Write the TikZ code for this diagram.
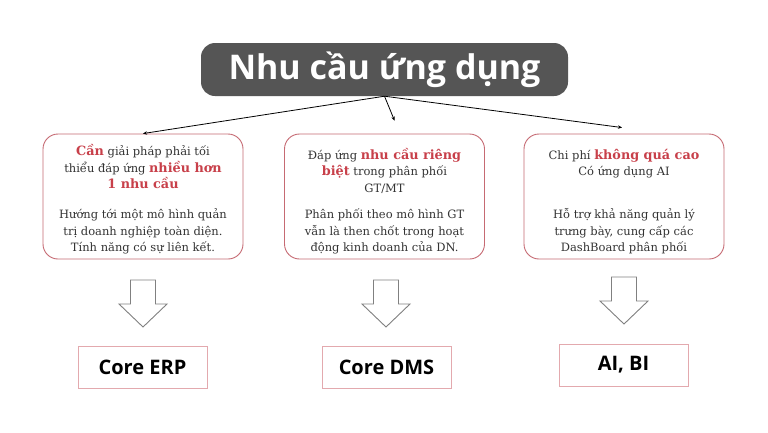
\documentclass[tikz,border=0pt]{standalone}
\usepackage{fontspec}
\setmainfont{DejaVu Serif}
\newfontfamily\headfont{Open Sans}
\usetikzlibrary{arrows.meta,positioning}
\definecolor{titlegray}{HTML}{555555}
\definecolor{needred}{HTML}{C8404A}
\definecolor{needframe}{HTML}{C66A73}
\definecolor{resframe}{HTML}{E3A9AE}
\definecolor{bodygray}{HTML}{333333}
\newcommand{\hl}[1]{\textcolor{needred}{\fontsize{12.8}{16.5}\selectfont\textbf{#1}}}

\begin{document}
\begin{tikzpicture}[x=1pt,y=-1pt,
    needbox/.style={draw=needframe, line width=0.9pt, rounded corners=15pt, minimum width=200pt, minimum height=125pt, inner sep=0pt},
    needtext/.style={align=center, inner sep=0pt, text=bodygray, font=\fontsize{11.5}{16.5}\selectfont},
    resbox/.style={draw=resframe, line width=0.9pt, minimum width=129pt, minimum height=42pt, font=\headfont\bfseries\fontsize{20}{22}\selectfont},
    link/.style={black, line width=0.8pt, -{Stealth[length=4pt,width=3.5pt]}},
    blockarrow/.style={draw=gray, line width=0.9pt, fill=white}]
        \useasboundingbox[fill=white] (0,0) rectangle (768,432);

        %% title
        \node[fill=titlegray, rounded corners=14pt, minimum width=367pt, minimum height=53pt, text=white,
              font=\headfont\bfseries\fontsize{34}{36}\selectfont] (title) at (384.5,69.5) {Nhu cầu ứng dụng};

        %% needs
        \node[needbox] (neederp) at (143,196.5) {};
        \node[needbox] (needdms) at (384.5,196.5) {};
        \node[needbox] (needai) at (624,196.5) {};

        \node[needtext] (erpa) at ([yshift=-33pt]neederp.north) {\hl{Cần} giải pháp phải tối\\ thiểu đáp ứng \hl{nhiều hơn}\\ \hl{1 nhu cầu}};
        \node[needtext] (erpb) at ([yshift=28pt]neederp.south) {Hướng tới một mô hình quản\\ trị doanh nghiệp toàn diện.\\ Tính năng có sự liên kết.};
        \node[needtext] (dmsa) at ([yshift=-37pt]needdms.north) {Đáp ứng \hl{nhu cầu riêng}\\ \hl{biệt} trong phân phối\\ GT/MT};
        \node[needtext] (dmsb) at ([yshift=28pt]needdms.south) {Phân phối theo mô hình GT\\ vẫn là then chốt trong hoạt\\ động kinh doanh của DN.};
        \node[needtext] (aia) at ([yshift=-30pt]needai.north) {Chi phí \hl{không quá cao}\\ Có ứng dụng AI};
        \node[needtext] (aib) at ([yshift=28pt]needai.south) {Hỗ trợ khả năng quản lý\\ trưng bày, cung cấp các\\ DashBoard phân phối};

        %% links from title
        \coordinate (dmstip) at ([shift={(10,-13)}]needdms.north);
        \coordinate (aitip) at ([shift={(-2,-6)}]needai.north);
        \draw[link] (title.south) -- (neederp.north);
        \draw[link] (title.south) -- (dmstip);
        \draw[link] (title.south) -- (aitip);

        %% block arrows
        \foreach \cx/\ty in {143/280, 386/280, 624/277}
            \draw[blockarrow] (\cx-12.5,\ty) -- ++(25,0) -- ++(0,24) -- ++(11.5,0) -- (\cx,\ty+47) -- (\cx-24,\ty+24) -- ++(11.5,0) -- cycle;

        %% results
        \node[resbox] (erp) at (142.5,367) {Core ERP};
        \node[resbox] (dms) at (386.5,367) {Core DMS};
        \node[resbox] (ai) at (623.5,365) {AI, BI};
\end{tikzpicture}
\end{document}
